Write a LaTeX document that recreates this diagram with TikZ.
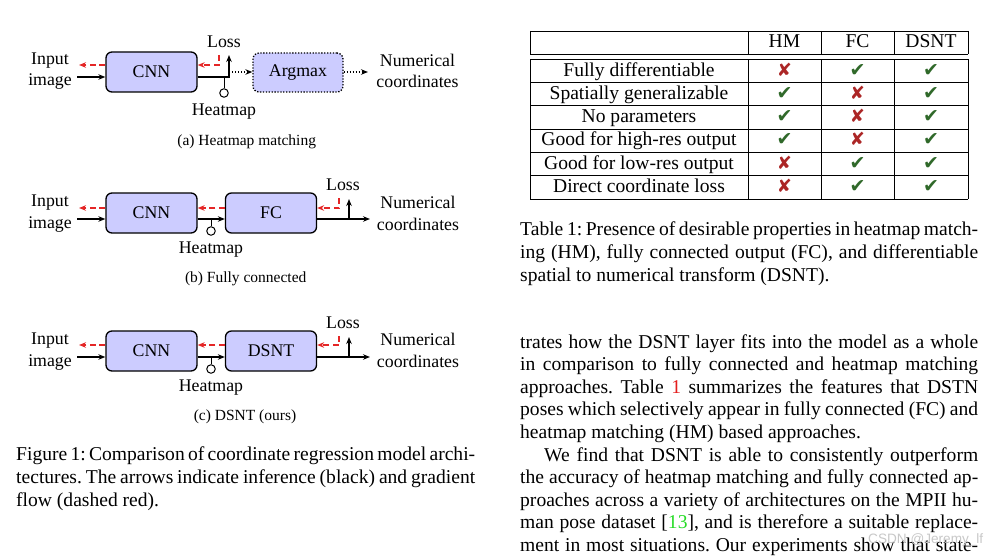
\documentclass[tikz,border=0pt]{standalone}
\usepackage{fontspec}
\setmainfont{Liberation Serif}
\newfontfamily\symfnt{DejaVu Sans}
\newfontfamily\wmfnt{Liberation Sans}
\usetikzlibrary{arrows.meta}
\definecolor{boxfill}{RGB}{204,204,255}
\definecolor{gradred}{RGB}{228,38,38}
\definecolor{okgreen}{RGB}{48,105,42}
\definecolor{nored}{RGB}{172,38,38}
\definecolor{refred}{RGB}{228,30,30}
\definecolor{refgreen}{RGB}{40,220,40}
\definecolor{wmgray}{RGB}{200,200,200}
\newcommand\dfont{\fontsize{17.8}{21.5}\selectfont}
\newcommand\bodyfont{\fontsize{19.57}{23.5}\selectfont}
\newcommand\subfont{\fontsize{15.5}{18.6}\selectfont}
\newcommand\yesmark{{\symfnt\fontsize{19}{22}\selectfont\textcolor{okgreen}{✔}}}
\newcommand\nomark{{\symfnt\fontsize{18}{22}\selectfont\textcolor{nored}{✘}}}
\frenchspacing
\begin{document}
\begin{tikzpicture}[x=1pt,y=-1pt,
  blockbox/.style={draw, line width=1.3pt, rounded corners=6pt, fill=boxfill, minimum width=91pt, minimum height=40pt, inner sep=0pt, font=\dfont},
  dotbox/.style={blockbox, dash pattern=on 1.3pt off 1.6pt},
  lbl/.style={font=\dfont, inner sep=0pt, anchor=base, align=center},
  inf/.style={line width=1.3pt, -{Stealth[length=7pt,width=5.5pt]}},
  dotarrow/.style={inf, dash pattern=on 1.3pt off 1.7pt},
  grad/.style={gradred, line width=1.5pt, dash pattern=on 6pt off 3.5pt, -{Stealth[length=7pt,width=5.5pt]}},
  stem/.style={line width=1pt},
  tap/.style={draw, circle, line width=1pt, minimum size=8.5pt, inner sep=0pt, fill=white},
  body/.style={font=\bodyfont, inner sep=0pt, anchor=base west},
  subcap/.style={font=\subfont, inner sep=0pt, anchor=base},
  trule/.style={line width=0.8pt},
  cell/.style={font=\bodyfont, inner sep=0pt, anchor=base}
]
\fill[white] (0,0) rectangle (999,559);
\useasboundingbox (0,0) rectangle (999,559);

% ---------- (a) Heatmap matching ----------
\node[blockbox] (a-cnn) at (151.5,72) {CNN};
\node[dotbox, minimum width=90pt, minimum height=39pt] (a-arg) at (298,72.5) {Argmax};
\node[lbl] (a-in) at (50,86) {Input\\image};
\node[lbl] (a-out) at (417.5,88) {Numerical\\coordinates};
\node[lbl] (a-loss) at (224,48) {Loss};
\node[lbl] (a-hm) at (224,116) {Heatmap};
\coordinate (a-i0) at (77,77);
\coordinate (a-g0) at (79,65);
\coordinate (a-j) at (229,77);
\coordinate (a-lt) at (229,55);
\coordinate (a-rt) at (219,55);
\coordinate (a-h) at (224,77);
\coordinate (a-d) at (229,72);
\coordinate (a-o) at (368,72);
\node[tap] (a-tap) at (224,93) {};
\draw[inf] (a-i0) -- (a-cnn.west |- a-i0);
\draw[grad] (a-cnn.west |- a-g0) -- (a-g0);
\draw[stem] (a-h) -- (a-tap.north);
\draw[inf] (a-cnn.east |- a-j) -- (a-j) -- (a-lt);
\draw[grad] (a-rt) -- (a-rt |- a-g0) -- (a-cnn.east |- a-g0);
\draw[dotarrow] (a-d) -- (a-arg.west |- a-d);
\draw[dotarrow] (a-arg.east |- a-o) -- (a-o);
\node[subcap] (a-cap) at (246.7,146) {(a) Heatmap matching};

% ---------- (b) Fully connected ----------
\node[blockbox] (b-cnn) at (151.5,213) {CNN};
\node[blockbox] (b-fc) at (271,213) {FC};
\node[lbl] (b-in) at (50,228) {Input\\image};
\node[lbl] (b-out) at (418,230) {Numerical\\coordinates};
\node[lbl] (b-loss) at (343,190) {Loss};
\node[lbl] (b-hm) at (211,253) {Heatmap};
\coordinate (b-i0) at (77,219);
\coordinate (b-g0) at (79,208);
\coordinate (b-h) at (211,219);
\coordinate (b-o) at (370,219);
\coordinate (b-lt) at (349,199);
\coordinate (b-rt) at (339,198);
\node[tap] (b-tap) at (211,231) {};
\draw[inf] (b-i0) -- (b-cnn.west |- b-i0);
\draw[grad] (b-cnn.west |- b-g0) -- (b-g0);
\draw[stem] (b-h) -- (b-tap.north);
\draw[inf] (b-cnn.east |- b-i0) -- (b-fc.west |- b-i0);
\draw[grad] (b-fc.west |- b-g0) -- (b-cnn.east |- b-g0);
\draw[inf] (b-fc.east |- b-o) -- (b-o);
\draw[inf] (b-lt |- b-o) -- (b-lt);
\draw[grad] (b-rt) -- (b-rt |- b-g0) -- (b-fc.east |- b-g0);
\node[subcap] (b-cap) at (245.7,282.7) {(b) Fully connected};

% ---------- (c) DSNT ----------
\node[blockbox] (c-cnn) at (151.5,351) {CNN};
\node[blockbox] (c-ds) at (271,351) {DSNT};
\node[lbl] (c-in) at (50,366) {Input\\image};
\node[lbl] (c-out) at (418,367) {Numerical\\coordinates};
\node[lbl] (c-loss) at (343,328) {Loss};
\node[lbl] (c-hm) at (211,391) {Heatmap};
\coordinate (c-i0) at (77,357);
\coordinate (c-g0) at (79,345);
\coordinate (c-h) at (211,357);
\coordinate (c-o) at (370,357);
\coordinate (c-lt) at (349,337);
\coordinate (c-rt) at (339,336);
\node[tap] (c-tap) at (211,369) {};
\draw[inf] (c-i0) -- (c-cnn.west |- c-i0);
\draw[grad] (c-cnn.west |- c-g0) -- (c-g0);
\draw[stem] (c-h) -- (c-tap.north);
\draw[inf] (c-cnn.east |- c-i0) -- (c-ds.west |- c-i0);
\draw[grad] (c-ds.west |- c-g0) -- (c-cnn.east |- c-g0);
\draw[inf] (c-ds.east |- c-o) -- (c-o);
\draw[inf] (c-lt |- c-o) -- (c-lt);
\draw[grad] (c-rt) -- (c-rt |- c-g0) -- (c-ds.east |- c-g0);
\node[subcap] (c-cap) at (245,420.7) {(c) DSNT (ours)};

% ---------- Figure caption ----------
\node[body] (fc1) at (16,460) {\makebox[459pt][s]{Figure 1: Comparison of coordinate regression model archi-}};
\node[body] (fc2) at (16,483) {\makebox[459pt][s]{tectures. The arrows indicate inference (black) and gradient}};
\node[body] (fc3) at (16,506) {flow (dashed red).};

% ---------- Table ----------
\foreach \yy in {31,54.3,59.3,82.6,105.9,129.2,152.5,175.8,199.1} {
  \draw[trule] (530,\yy) -- (968,\yy);
}
\foreach \xx in {530,748,821,894,968} {
  \draw[trule] (\xx,31) -- (\xx,54.3);
  \draw[trule] (\xx,59.3) -- (\xx,199.1);
}
\node[cell] (th1) at (784.5,47.8) {HM};
\node[cell] (th2) at (857.5,47.8) {FC};
\node[cell] (th3) at (931,47.8) {DSNT};
\foreach \lab/\ma/\mb/\mc [count=\i] in {
  Fully differentiable/\nomark/\yesmark/\yesmark,
  Spatially generalizable/\yesmark/\nomark/\yesmark,
  No parameters/\yesmark/\nomark/\yesmark,
  Good for high-res output/\yesmark/\nomark/\yesmark,
  Good for low-res output/\nomark/\yesmark/\yesmark,
  Direct coordinate loss/\nomark/\yesmark/\yesmark} {
  \pgfmathsetmacro\by{59.3+23.3*\i-6.5}
  \node[cell] (tl\i) at (639,\by) {\lab};
  \node[cell] (ta\i) at (784.5,\by) {\ma};
  \node[cell] (tb\i) at (857.5,\by) {\mb};
  \node[cell] (tc\i) at (931,\by) {\mc};
}

% ---------- Table caption ----------
\node[body] (tc-1) at (520,235) {\makebox[458pt][s]{Table 1: Presence of desirable properties in heatmap match-}};
\node[body] (tc-2) at (520,258) {\makebox[458pt][s]{ing (HM), fully connected output (FC), and differentiable}};
\node[body] (tc-3) at (520,281) {spatial to numerical transform (DSNT).};

% ---------- Body text ----------
\node[body] (p1) at (520,348) {\makebox[458pt][s]{trates how the DSNT layer fits into the model as a whole}};
\node[body] (p2) at (520,370.6) {\makebox[458pt][s]{in comparison to fully connected and heatmap matching}};
\node[body] (p3) at (520,393.2) {\makebox[458pt][s]{approaches. Table \textcolor{refred}{1} summarizes the features that DSTN}};
\node[body] (p4) at (520,415.8) {\makebox[458pt][s]{poses which selectively appear in fully connected (FC) and}};
\node[body] (p5) at (520,438.4) {heatmap matching (HM) based approaches.};
\node[body] (p6) at (544,461) {\makebox[434pt][s]{We find that DSNT is able to consistently outperform}};
\node[body] (p7) at (520,483.6) {\makebox[458pt][s]{the accuracy of heatmap matching and fully connected ap-}};
\node[body] (p8) at (520,506.2) {\makebox[458pt][s]{proaches across a variety of architectures on the MPII hu-}};
\node[body] (p9) at (520,528.8) {\makebox[458pt][s]{man pose dataset [\textcolor{refgreen}{13}], and is therefore a suitable replace-}};
\node[body] (p10) at (520,551.4) {\makebox[458pt][s]{ment in most situations. Our experiments show that state-}};
\node[anchor=base west, inner sep=0pt, font=\wmfnt\fontsize{13.6}{16}\selectfont, text=wmgray] (wm) at (868,543) {CSDN @Jeremy\_lf};
\end{tikzpicture}
\end{document}
